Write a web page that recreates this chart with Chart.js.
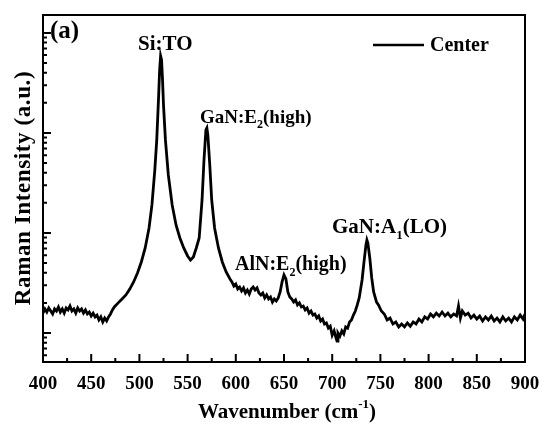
<!DOCTYPE html>
<html>
<head>
<meta charset="utf-8">
<script src="https://cdn.jsdelivr.net/npm/chart.js@4.4.1/dist/chart.umd.min.js"></script>
<style>
  html, body { margin: 0; padding: 0; background: #fff; }
  #wrap { width: 545px; height: 425px; }
</style>
</head>
<body>
<div id="wrap"><canvas id="ramanChart"></canvas></div>
<script>
// Raman spectrum, "Center" position (wavenumber in cm-1, intensity in a.u.)
const wavenumbers = [
  400, 402, 404, 406, 408, 410, 412, 414, 416, 418, 420, 422, 424, 426, 428, 430, 432, 434, 436, 438,
  440, 442, 444, 446, 448, 450, 452, 454, 456, 458, 460, 462, 464, 466, 468, 470, 472, 474,
  478, 482, 486, 490, 494, 498, 502, 506, 510, 513, 516, 518, 520, 521, 522, 523, 524, 525, 527, 530,
  534, 538, 542, 546, 550, 553, 556, 559, 562, 565, 567, 569, 570, 571, 573, 575, 578, 582, 586, 590, 594,
  596, 598, 600, 602, 604, 606, 608, 610, 612, 614, 616, 618, 620, 622, 624, 626, 628, 630, 632, 634,
  636, 638, 640, 642, 644, 646, 648, 650, 652, 654, 656, 658, 660, 662, 664, 666, 668, 670, 672, 674,
  676, 678, 680, 682, 684, 686, 688, 690, 692, 694, 696, 698, 700, 702, 704, 705,
  706, 708, 710, 712, 714, 716, 718, 720, 722, 724, 726, 728,
  731, 733, 735, 736, 737, 739, 741, 743, 746,
  748, 751, 754, 757, 760, 763, 766, 769, 772, 775, 778, 781, 784, 787, 790, 793, 796, 799, 802, 805,
  808, 811, 814, 817, 820, 823, 826, 829, 831, 833, 835, 838, 841, 844, 847, 850, 853, 856, 859, 862,
  865, 868, 871, 874, 877, 880, 883, 886, 889, 892, 895, 898, 900
];
const intensity = [
  158, 174, 162, 178, 166, 155, 174, 166, 182, 162, 174, 158, 178, 170, 186, 166, 174, 158, 178, 166,
  174, 158, 170, 155, 162, 148, 158, 145, 151, 135, 145, 129, 141, 132, 145, 155, 170, 182,
  200, 219, 240, 275, 324, 398, 513, 708, 1122, 1905, 4266, 8511, 23988, 42658, 58884, 53703, 33884, 19055, 8511, 3802,
  1905, 1202, 891, 708, 589, 537, 575, 708, 891, 2138, 5370, 10715, 11220, 9550, 4786, 2138, 1122, 708, 513, 407, 347,
  324, 295, 309, 275, 288, 263, 282, 251, 269, 245, 275, 288, 269, 282, 251, 240, 251, 224, 240, 219,
  229, 204, 219, 209, 224, 257, 324, 380, 347, 257, 229, 219, 204, 214, 191, 200, 182, 186, 170, 178,
  158, 166, 151, 155, 141, 148, 132, 138, 123, 126, 112, 117, 95, 105, 89, 83,
  100, 93, 105, 98, 115, 112, 129, 135, 151, 166, 191, 224,
  339, 513, 759, 851, 794, 562, 355, 257, 204,
  191, 166, 155, 135, 141, 123, 129, 115, 123, 115, 126, 117, 129, 123, 138, 129, 145, 138, 155, 145,
  158, 148, 162, 148, 158, 145, 155, 148, 186, 141, 166, 151, 158, 141, 151, 138, 148, 132, 145, 135,
  148, 132, 141, 129, 145, 132, 141, 129, 145, 135, 151, 138, 155
];
const xTickLabels = [400, 450, 500, 550, 600, 650, 700, 750, 800, 850, 900];
const yDecades = [10, 100, 1000, 10000, 100000];

const serif = '"Liberation Serif", "Times New Roman", serif';

// text pieces: [string, isSubscript]
function drawRich(ctx, parts, x, y, size) {
  let cx = x;
  parts.forEach(([s, sub]) => {
    ctx.font = 'bold ' + (sub ? Math.round(size * 0.62) : size) + 'px ' + serif;
    ctx.fillText(s, cx, sub ? y + size * 0.28 : y);
    cx += ctx.measureText(s).width;
  });
}

const framePlugin = {
  id: 'frame',
  afterDatasetsDraw(chart) {
    const { ctx, chartArea: a, scales: { x, y } } = chart;
    ctx.save();
    ctx.strokeStyle = '#000';
    ctx.fillStyle = '#000';

    // inward ticks, bottom axis
    ctx.lineWidth = 2;
    ctx.beginPath();
    for (let v = 400; v <= 900; v += 25) {
      const px = x.getPixelForValue(v);
      const len = v % 50 === 0 ? 8 : 4;
      ctx.moveTo(px, a.bottom);
      ctx.lineTo(px, a.bottom - len);
    }
    // inward ticks, left axis (log)
    yDecades.forEach(d => {
      for (let k = 1; k <= 9; k++) {
        const v = d * k;
        if (v < y.min || v > y.max) continue;
        const py = y.getPixelForValue(v);
        ctx.moveTo(a.left, py);
        ctx.lineTo(a.left + (k === 1 ? 8 : 4), py);
      }
    });
    ctx.stroke();

    ctx.lineWidth = 2;
    ctx.strokeRect(a.left, a.top, a.right - a.left, a.bottom - a.top);

    // legend
    const ds = chart.data.datasets[0];
    ctx.lineWidth = 2.5;
    ctx.beginPath();
    ctx.moveTo(373, 45);
    ctx.lineTo(424, 45);
    ctx.stroke();
    ctx.textBaseline = 'middle';
    ctx.font = 'bold 20px ' + serif;
    ctx.fillText(ds.label, 430, 46);

    // peak labels
    ctx.textBaseline = 'alphabetic';
    ctx.font = 'bold 25px ' + serif;
    ctx.fillText('(a)', 50, 38);
    drawRich(ctx, [['Si:TO', false]], 138, 50, 21);
    drawRich(ctx, [['GaN:E', false], ['2', true], ['(high)', false]], 200, 123, 19);
    drawRich(ctx, [['AlN:E', false], ['2', true], ['(high)', false]], 235, 270, 20);
    drawRich(ctx, [['GaN:A', false], ['1', true], ['(LO)', false]], 332, 233, 21);

    // x axis title with superscript
    ctx.textAlign = 'left';
    ctx.font = 'bold 21px ' + serif;
    const t1 = 'Wavenumber (cm';
    const w1 = ctx.measureText(t1).width;
    ctx.font = 'bold 13px ' + serif;
    const w2 = ctx.measureText('-1').width;
    ctx.font = 'bold 21px ' + serif;
    const w3 = ctx.measureText(')').width;
    const sx = 287 - (w1 + w2 + w3) / 2;
    ctx.fillText(t1, sx, 418);
    ctx.font = 'bold 13px ' + serif;
    ctx.fillText('-1', sx + w1, 408);
    ctx.font = 'bold 21px ' + serif;
    ctx.fillText(')', sx + w1 + w2, 418);

    // y axis title
    ctx.translate(30, 188);
    ctx.rotate(-Math.PI / 2);
    ctx.textAlign = 'center';
    ctx.font = 'bold 23px ' + serif;
    ctx.letterSpacing = '0.6px';
    ctx.fillText('Raman Intensity (a.u.)', 0, 0);
    ctx.restore();
  }
};

const ctx = document.getElementById('ramanChart');
new Chart(ctx, {
  type: 'line',
  data: {
    datasets: [{
      label: 'Center',
      data: wavenumbers.map((w, i) => ({ x: w, y: intensity[i] })),
      borderColor: '#000',
      borderWidth: 2.8,
      pointRadius: 0,
      tension: 0,
      fill: false
    }]
  },
  options: {
    responsive: true,
    maintainAspectRatio: false,
    animation: false,
    layout: { padding: { top: 15, right: 20, left: 0, bottom: 0 } },
    plugins: {
      legend: { display: false },
      tooltip: { enabled: false }
    },
    scales: {
      x: {
        type: 'linear',
        min: 400,
        max: 900,
        afterBuildTicks: s => { s.ticks = xTickLabels.map(v => ({ value: v })); },
        afterFit: s => { s.height = 63; s.paddingLeft = 0; s.paddingRight = 0; },
        grid: { display: false, drawTicks: false },
        border: { display: false },
        ticks: {
          color: '#000',
          padding: 11,
          maxRotation: 0,
          autoSkip: false,
          font: { family: serif, size: 19, weight: 'bold' }
        }
      },
      y: {
        type: 'logarithmic',
        min: 51.3,
        max: 151000,
        afterFit: s => { s.width = 43; },
        grid: { display: false, drawTicks: false },
        border: { display: false },
        ticks: { display: false }
      }
    }
  },
  plugins: [framePlugin]
});
</script>
</body>
</html>
